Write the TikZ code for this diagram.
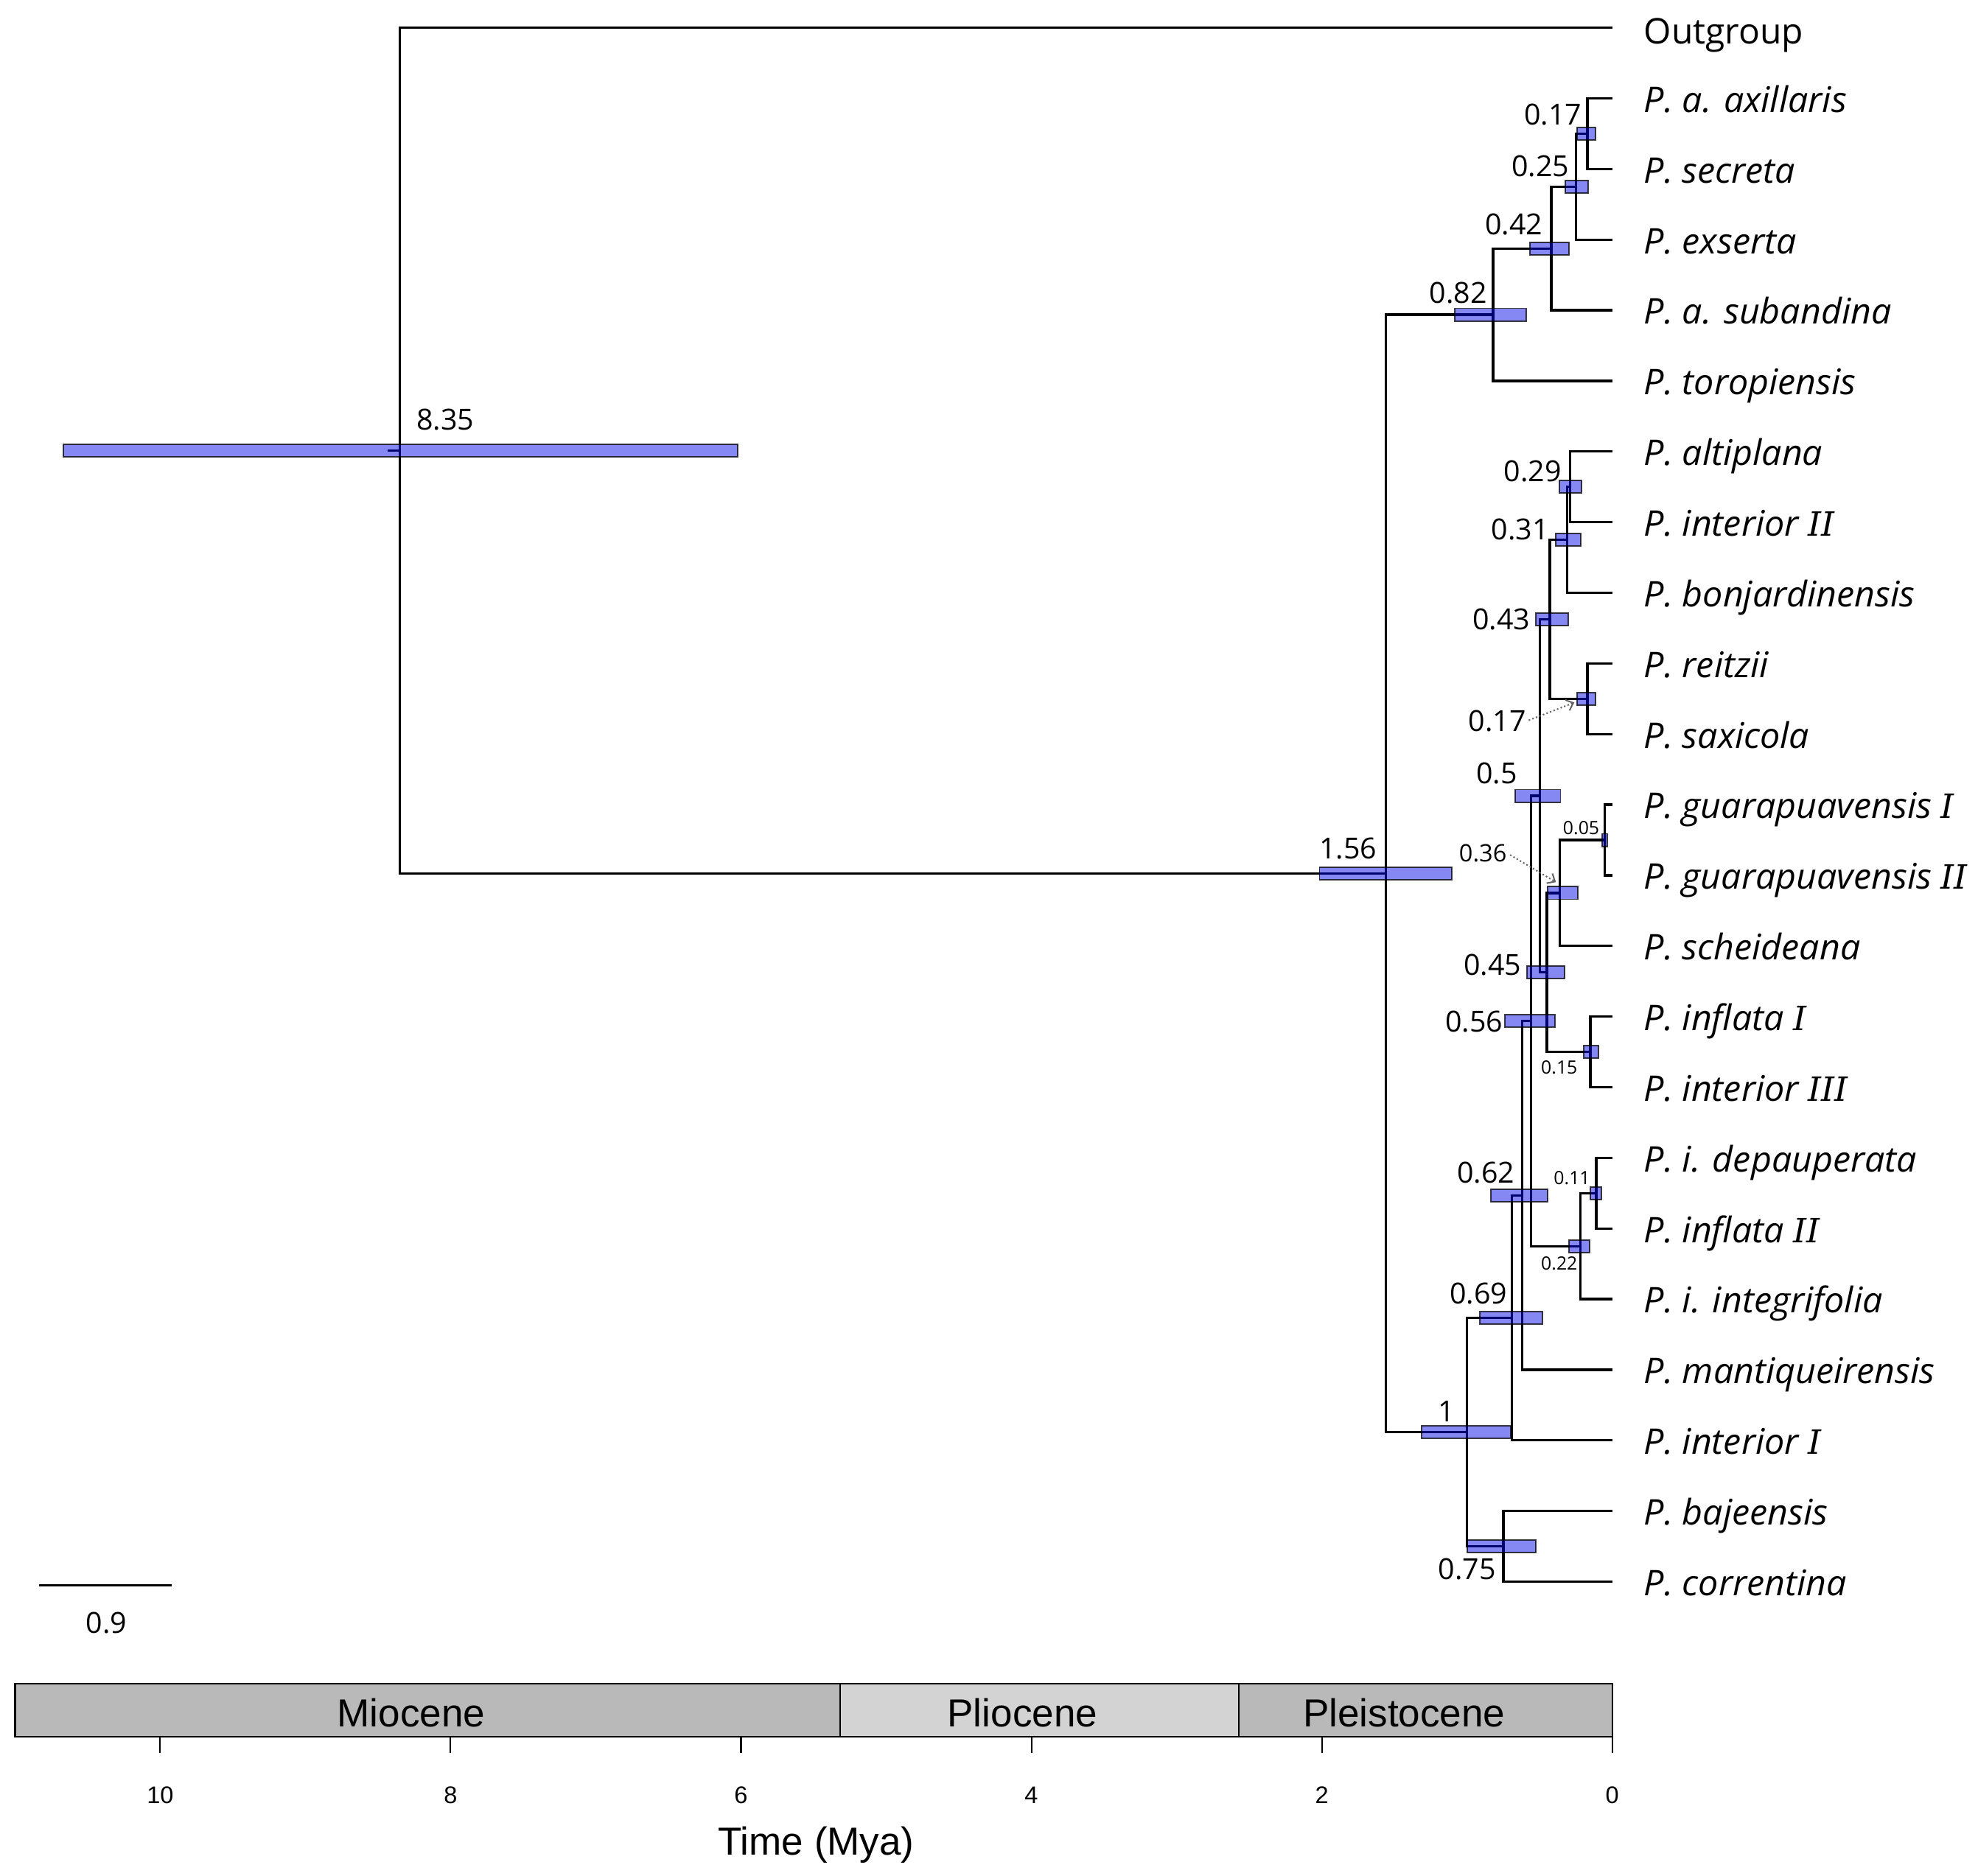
\documentclass[tikz,border=0pt]{standalone}
\usepackage{fontspec}
\setmainfont{Open Sans}
\newfontfamily\myAxFont{Liberation Sans}
\newfontfamily\mySpecFam[FakeStretch=1.01]{Open Sans}
\newfontfamily\myRomI{DejaVu Serif}
\usetikzlibrary{arrows.meta}
\definecolor{barblue}{RGB}{0,5,230}
\definecolor{miogray}{RGB}{185,185,185}
\definecolor{pliogray}{RGB}{211,211,211}
\newcommand\myNum{\fontsize{23}{27}\selectfont}
\newcommand\myMed{\fontsize{19}{22}\selectfont}
\newcommand\mySmall{\fontsize{14.5}{17}\selectfont}
\newcommand\mySpec{\mySpecFam\fontsize{28}{32}\selectfont\itshape}
\newcommand\RI{{\myRomI\fontsize{26.5}{30}\selectfont\itshape I}}
\begin{document}
\begin{tikzpicture}[x=1pt,y=-1pt,
  branch/.style={line width=1.9pt,black},
  hpd/.style={fill=barblue,fill opacity=0.48,draw=black,draw opacity=0.75,line width=1.1pt},
  num/.style={font=\myNum,inner sep=0pt,anchor=base east},
  med/.style={font=\myMed,inner sep=0pt,anchor=base east},
  sml/.style={font=\mySmall,inner sep=0pt,anchor=base east},
  spec/.style={font=\mySpec,inner sep=0pt,anchor=base west},
  dotarrow/.style={gray!80!black,line width=1.2pt,dash pattern=on 1.2pt off 1.8pt,-{Straight Barb[length=5pt,width=9pt]}},
  epoch/.style={draw=black,line width=1.3pt},
  axlab/.style={font=\myAxFont\fontsize{31}{36}\selectfont,inner sep=0pt,anchor=base},
  ticklab/.style={font=\myAxFont\fontsize{19}{22}\selectfont,inner sep=0pt,anchor=base},
  tick/.style={line width=1.2pt}]
\useasboundingbox (0,0) rectangle (1568,1487);
\fill[white] (0,0) rectangle (1568,1487);

% tips
\foreach \i/\yy in {0/22,1/78,2/134,3/190,4/246,5/302,6/358,7/414,8/470,9/526,10/582,11/638,12/694,13/750,14/806,15/862,16/918,17/974,18/1030,19/1086,20/1142,21/1198,22/1254}
  \coordinate (t\i) at (1278,\yy);

% internal nodes
\coordinate (root) at (316.9,357.2);
\coordinate (rootedge) at (307,357.2);
\coordinate (n156) at (1098.4,692.5);
\coordinate (n082) at (1183.6,249.5);
\coordinate (n042) at (1229.7,197);
\coordinate (n025) at (1249.2,148);
\coordinate (n017a) at (1258.4,106);
\coordinate (n100) at (1162.9,1135.4);
\coordinate (n069) at (1198.6,1044.9);
\coordinate (n062) at (1206.6,947.75);
\coordinate (n056) at (1213.5,809.5);
\coordinate (n050) at (1220.5,631);
\coordinate (n043) at (1228.5,491);
\coordinate (n031) at (1242.3,428);
\coordinate (n029) at (1244.6,386);
\coordinate (n017b) at (1258.4,554);
\coordinate (n045) at (1226.2,771);
\coordinate (n036) at (1236.6,708);
\coordinate (n005) at (1272.2,666);
\coordinate (n015) at (1260.7,834);
\coordinate (n022) at (1252.7,988);
\coordinate (n011) at (1265.3,946);
\coordinate (n075) at (1191.7,1226);

% branches
\foreach \p/\c in {root/t0,root/n156,n156/n082,n156/n100,n082/n042,n082/t5,n042/n025,n042/t4,
  n025/n017a,n025/t3,n017a/t1,n017a/t2,n100/n069,n100/n075,n069/n062,n069/t20,n062/n056,n062/t19,
  n056/n050,n056/n022,n050/n043,n050/n045,n043/n031,n043/n017b,n031/n029,n031/t8,n029/t6,n029/t7,
  n017b/t9,n017b/t10,n045/n036,n045/n015,n036/n005,n036/t13,n005/t11,n005/t12,n015/t14,n015/t15,
  n022/n011,n022/t18,n011/t16,n011/t17,n075/t21,n075/t22}
  \draw[branch] (\p) |- (\c);
\draw[branch] (root) -- (rootedge);

% HPD bars
\foreach \a/\b/\yy in {50/585/357.2,1046/1151/692.5,1153/1210/249.5,1213/1244/197,1240.6/1259/148,
  1250/1265/106,1236/1253.5/386,1233/1253/428,1217.5/1243/491,1250/1265/554,1201/1237/631,
  1227/1250.6/708,1270/1274.3/666,1210.3/1240/771,1255.5/1267/834,1193/1232.5/809.5,
  1182/1226.7/947.75,1260.7/1269.4/946,1244/1260/988,1173/1222.7/1044.9,1126.8/1197.4/1135.4,
  1163/1217.4/1226}
  \draw[hpd] (\a,{\yy-5}) rectangle (\b,{\yy+5});

% node ages
\node[num,anchor=base west] (l835) at (330,341) {8.35};
\node[num] (l156) at (1091.5,680.6) {1.56};
\node[num] (l082) at (1179,240.6) {0.82};
\node[num] (l042) at (1223,186) {0.42};
\node[num] (l025) at (1244,140) {0.25};
\node[num] (l017a) at (1254,99) {0.17};
\node[num] (l029) at (1238,382) {0.29};
\node[num] (l031) at (1228,428) {0.31};
\node[num] (l043) at (1213,499) {0.43};
\node[num] (l017b) at (1210,580) {0.17};
\node[num] (l050) at (1203,621.5) {0.5};
\node[med] (l036) at (1194.5,683) {0.36};
\node[sml] (l005) at (1268,661.4) {0.05};
\node[num] (l045) at (1206,773.4) {0.45};
\node[num] (l056) at (1191.6,818) {0.56};
\node[sml] (l015) at (1250.6,851.3) {0.15};
\node[num] (l062) at (1201,938) {0.62};
\node[sml] (l011) at (1260.7,939) {0.11};
\node[sml] (l022) at (1250.6,1007) {0.22};
\node[num] (l069) at (1195,1034) {0.69};
\node[num] (l100) at (1153.6,1127.5) {1};
\node[num] (l075) at (1186,1252) {0.75};

% dotted arrows
\coordinate (a017b) at (1248,557);
\coordinate (a036) at (1233.4,699.4);
\draw[dotarrow,shorten <=2pt] (l017b.east) -- (a017b);
\draw[dotarrow,shorten <=3pt] (l036.east) -- (a036);

% tip labels
\node[font=\fontsize{28}{32}\selectfont,inner sep=0pt,anchor=base west] (s0) at (1303,34.5) {Outgroup};
\foreach \i/\yy/\nm in {1/78/{P. a. axillaris},2/134/{P. secreta},3/190/{P. exserta},4/246/{P. a. subandina},
  5/302/{P. toropiensis},6/358/{P. altiplana},7/414/{P. interior \RI\RI},8/470/{P. bonjardinensis},
  9/526/{P. reitzii},10/582/{P. saxicola},11/638/{P. guarapuavensis \RI},12/694/{P. guarapuavensis \RI\RI},
  13/750/{P. scheideana},14/806/{P. inflata \RI},15/862/{P. interior \RI\RI\RI},16/918/{P. i. depauperata},
  17/974/{P. inflata \RI\RI},18/1030/{P. i. integrifolia},19/1086/{P. mantiqueirensis},20/1142/{P. interior \RI},
  21/1198/{P. bajeensis},22/1254/{P. correntina}}
  \node[spec] (s\i) at (1303,{\yy+11}) {\nm};

% scale bar
\coordinate (sbl) at (31,1256.7);
\coordinate (sbr) at (136,1256.7);
\draw[line width=1.9pt] (sbl) -- (sbr);
\node[num,anchor=base] (sblab) at (84.5,1295) {0.9};

% epochs
\draw[epoch,fill=miogray] (12,1335) rectangle (666,1377);
\draw[epoch,fill=pliogray] (666,1335) rectangle (982,1377);
\draw[epoch,fill=miogray] (982,1335) rectangle (1278,1377);
\node[axlab] (mio) at (326,1369) {Miocene};
\node[axlab] (plio) at (810.5,1369) {Pliocene};
\node[axlab] (pleis) at (1113,1369) {Pleistocene};
\foreach \t in {10,8,6,4,2,0} {
  \draw[tick] ({1278-115.1*\t},1377) -- ({1278-115.1*\t},1390);
  \node[ticklab] at ({1278-115.1*\t},1430) {\t};
}
\node[axlab] (tlab) at (647,1471) {Time (Mya)};
\end{tikzpicture}
\end{document}
